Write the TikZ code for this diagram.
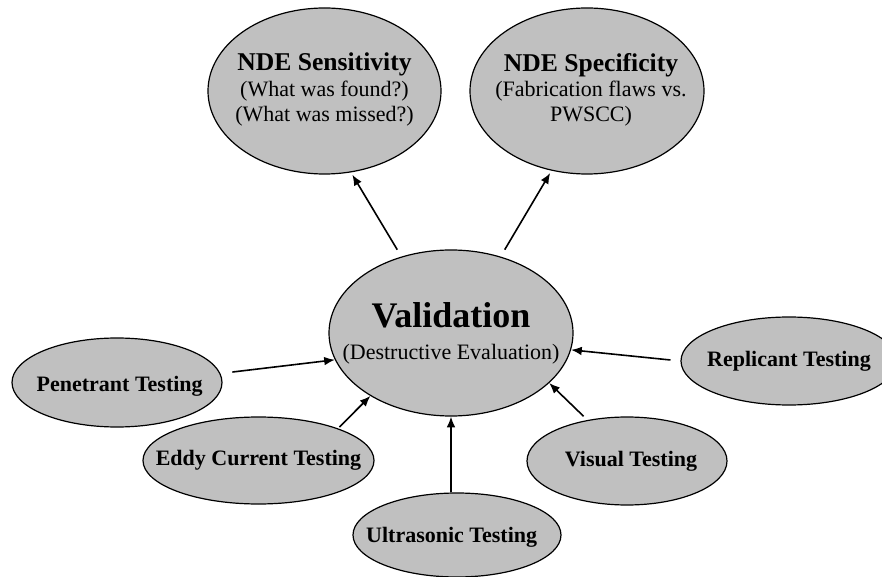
\documentclass[tikz,border=0pt]{standalone}
\usepackage{fontspec}
\setmainfont{Liberation Serif}
\usetikzlibrary{shapes.geometric, arrows.meta}
\definecolor{bubblegray}{RGB}{192,192,192}

\begin{document}
\begin{tikzpicture}[x=0.75pt, y=-0.75pt]
    \tikzstyle{bubble} = [ellipse, draw=black, line width=0.9pt, fill=bubblegray, inner sep=0pt]
    \tikzstyle{plaintext} = [align=center, inner sep=0pt, font=\fontsize{16.5}{19}\selectfont]
    \tikzstyle{tagtext} = [align=center, inner sep=0pt, font=\bfseries\fontsize{16.5}{19}\selectfont]
    \tikzstyle{arrow} = [line width=1.2pt, -{Latex[length=8pt, width=6.5pt]}]

    \useasboundingbox (0,0) rectangle (882,577);
    \clip (0,0) rectangle (882,577);

    \node (sens) [bubble, minimum width=174.75pt, minimum height=124.5pt,
        label={[plaintext, yshift=1pt]center:{{\bfseries\fontsize{19.2}{21}\selectfont NDE Sensitivity}\\(What was found?)\\(What was missed?)}}] at (324.5,91) {};
    \node (spec) [bubble, minimum width=175.5pt, minimum height=124.5pt,
        label={[plaintext, xshift=3pt, yshift=1pt]center:{{\bfseries\fontsize{19.2}{21}\selectfont NDE Specificity}\\(Fabrication flaws vs.\\PWSCC)}}] at (587,91) {};
    \node (val) [bubble, minimum width=183pt, minimum height=124.5pt,
        label={[plaintext]center:{{\bfseries\fontsize{27}{30}\selectfont Validation}\\[5pt](Destructive Evaluation)}}] at (451,333) {};
    \node (pen) [bubble, minimum width=157.5pt, minimum height=66.75pt,
        label={[tagtext, xshift=2pt, yshift=-3pt]center:Penetrant Testing}] at (117,382.5) {};
    \node (eddy) [bubble, minimum width=173.25pt, minimum height=65.25pt,
        label={[tagtext]center:Eddy Current Testing}] at (258.5,460.5) {};
    \node (ultra) [bubble, minimum width=156pt, minimum height=63pt,
        label={[tagtext, xshift=-4pt, yshift=-2pt]center:Ultrasonic Testing}] at (457,535) {};
    \node (vis) [bubble, minimum width=150pt, minimum height=66pt,
        label={[tagtext, xshift=3pt]center:Visual Testing}] at (627,461) {};
    \node (rep) [bubble, minimum width=162pt, minimum height=66pt,
        label={[tagtext]center:Replicant Testing}] at (789,361) {};

    \draw [arrow, shorten <=6pt, shorten >=2pt] (val.123) -- (sens.-72);
    \draw [arrow, shorten <=6pt, shorten >=2pt] (val.57) -- (spec.-114);
    \draw [arrow, shorten <=9pt] (pen.5) -- (val.193);
    \draw [arrow, shorten <=1.5pt] (eddy.22) -- (val.218);
    \draw [arrow] (val.south |- ultra.north) -- (val.south);
    \draw [arrow, shorten <=4pt] (vis.134) -- (val.-27);
    \draw [arrow, shorten <=7.5pt] (rep.west) -- (val.-8);
\end{tikzpicture}
\end{document}
